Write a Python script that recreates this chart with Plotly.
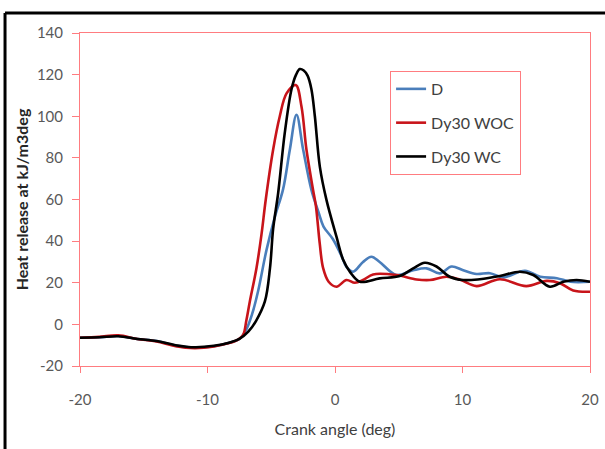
import plotly.graph_objects as go

# ---- data ----
x_wc = [-20, -18.5, -17, -15.5, -14, -12.5, -11, -9.5, -8.3, -7.5, -6.8, -6.2, -5.5, -5.1, -4.85,
        -4.46, -3.94, -3.41, -3.05, -2.76, -2.45, -2.15, -1.85, -1.58, -1.19, -0.67, 0.12, 0.64,
        1.2, 1.95, 3.5, 5.08, 6.13, 7.04, 7.96, 9.0, 10.05, 11.36, 12.93, 14.5, 15.55, 16.85,
        17.9, 18.95, 20]
y_wc = [-6.4, -6.2, -5.7, -7.0, -8.0, -10.0, -11.0, -10.3, -8.8, -7.0, -3.5, 1.6, 11, 27, 46,
        63, 92, 113, 120, 122.7, 122, 119.5, 113, 100, 75.8, 59.8, 42, 31,
        25, 20.5, 22.1, 23.2, 26.9, 29.6, 27.8, 22.9, 21.3, 21.7, 23.2, 25.3, 23.7, 18.1,
        20.5, 21.3, 20.5]

x_woc = [-20, -18.5, -17, -15.5, -14, -12.5, -11, -9.5, -8.3, -7.6, -7.2, -6.95, -6.68, -6.16,
         -5.77, -5.43, -4.85, -4.33, -3.8, -3.08, -2.63, -2.24, -1.72, -1.5, -1.2, -0.93, -0.5,
         0.12, 0.9, 1.55, 2.2, 2.99, 4.82, 6.4, 7.44, 8.74, 9.79, 11.1, 12.93, 15.0, 16.6,
         17.64, 18.68, 20]
y_woc = [-6.4, -6.0, -5.3, -7.0, -8.2, -10.5, -11.4, -10.6, -9.0, -7.3, -5.0, 2.0, 11, 27,
         43, 60, 84, 100, 111, 115, 104.7, 84, 64.6, 57, 39, 27, 20.5,
         18.1, 21.3, 20, 21.3, 24, 23.7, 21.6, 21.3, 22.9, 21.5, 18.4, 21.7, 18.4, 20.9,
         19.8, 16.3, 15.7]

x_d = [-20, -18.5, -17, -15.5, -14, -12.5, -11, -9.5, -8.3, -7.5, -7.0, -6.5, -6.03, -5.37,
       -4.7, -4.07, -3.54, -3.02, -2.5, -1.85, -1.3, -0.9, -0.17, 0.5, 0.9, 1.42, 2.2, 2.86,
       3.5, 4.82, 6.13, 7.18, 8.22, 9.14, 10.05, 11.1, 12.15, 13.2, 14.9, 16.1, 17.4, 18.46, 20]
y_d = [-6.4, -6.2, -5.6, -7.0, -8.0, -10.2, -11.2, -10.5, -8.8, -7.0, -3.0, 5, 16, 35.8,
       52, 65, 84, 100.7, 84, 64.6, 54, 47, 41, 33, 27.6, 25.3, 30, 32.5,
       30, 23.7, 26, 26.9, 24.5, 27.8, 26, 24.2, 24.6, 22.6, 25.8, 22.9, 22.2, 20.5, 20.5]

series_names = ["D", "Dy30 WOC", "Dy30 WC"]
x_ticks = [-20, -10, 0, 10, 20]
x_ticktext = ["-20", "-10", "0", "10", "20"]
y_ticks = [-20, 0, 20, 40, 60, 80, 100, 120, 140]
y_ticktext = ["-20", "0", "20", "40", "60", "80", "100", "120", "140"]

AX = "#FF7C80"
FONT = "Lato, Liberation Sans, sans-serif"

fig = go.Figure()
for i, (xs, ys, col) in enumerate([(x_d, y_d, "#4A7EBB"), (x_woc, y_woc, "#C8141A"), (x_wc, y_wc, "#000000")]):
    fig.add_trace(go.Scatter(x=xs, y=ys, mode="lines", name=series_names[i],
                             line=dict(color=col, width=2.6, shape="spline", smoothing=1.0),
                             legendgroup=str(i)))

fig.update_layout(
    width=605, height=449,
    margin=dict(l=80, r=15, t=33, b=83),
    paper_bgcolor="white", plot_bgcolor="white",
    font=dict(family=FONT, size=15, color="#595959"),
    showlegend=True,
    legend=dict(x=0.608, y=0.886, xanchor="left", yanchor="top",
                bordercolor=AX, borderwidth=1, bgcolor="white",
                font=dict(size=16, color="#404040"), tracegroupgap=10,
                itemwidth=30),
    shapes=[
        dict(type="line", xref="paper", yref="paper", x0=-0.147, x1=1.05, y0=1.06, y1=1.06,
             line=dict(color="black", width=3)),
        dict(type="line", xref="paper", yref="paper", x0=-0.147, x1=-0.147, y0=1.06, y1=-0.3,
             line=dict(color="black", width=3)),
    ],
)
fig.update_xaxes(range=[-20, 20], tickvals=x_ticks, ticktext=x_ticktext, showgrid=False, zeroline=False,
                 showline=True, linecolor=AX, linewidth=1, mirror=True, automargin=False,
                 ticks="outside", ticklen=6, tickcolor=AX, ticklabelstandoff=14,
                 title=dict(text="Crank angle (deg)", font=dict(size=16, color="#404040"), standoff=16))
fig.update_yaxes(range=[-20, 140], tickvals=y_ticks, ticktext=y_ticktext, showgrid=False, zeroline=False,
                 showline=True, linecolor=AX, linewidth=1, mirror=True, automargin=False,
                 ticks="outside", ticklen=7, tickcolor=AX, ticklabelstandoff=6,
                 title=dict(text="<b>Heat release at kJ/m3deg</b>", font=dict(size=16, color="#262626"), standoff=4))

fig.write_html("out.html")
